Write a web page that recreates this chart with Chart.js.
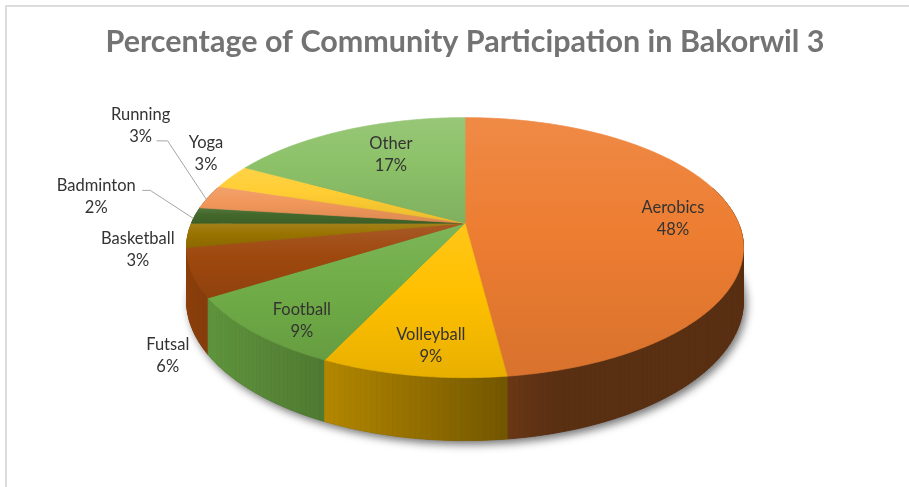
<!DOCTYPE html>
<html>
<head>
<meta charset="utf-8">
<script src="https://cdn.jsdelivr.net/npm/chart.js@4/dist/chart.umd.min.js"></script>
<style>
  html, body { margin: 0; padding: 0; background: #fff; }
  #wrap { width: 909px; height: 487px; position: relative; }
</style>
</head>
<body>
<div id="wrap"><canvas id="chart" width="909" height="487"></canvas></div>
<script>
// ---- data ----
const categories = ['Aerobics', 'Volleyball', 'Football', 'Futsal', 'Basketball', 'Badminton', 'Running', 'Yoga', 'Other'];
const participation = [48, 9, 9, 6, 3, 2, 3, 3, 17];
const sliceColors = ['#ED7D31', '#FFC000', '#70AD47', '#9E480E', '#997300', '#43682B', '#F1975A', '#FFCD33', '#8CC168'];
const chartTitle = 'Percentage of Community Participation in Bakorwil 3';

// ---- label placement: t = fraction of radius along the slice mid-angle, dx/dy = nudge in px ----
const labelPlacement = {
  Aerobics:   { t: 0.765, dx: 1,    dy: 2 },
  Volleyball: { t: 0.85,  dx: 9,    dy: -2.5 },
  Football:   { t: 0.8,   dx: 0,    dy: 12.5 },
  Other:      { t: 0.6,   dx: 2,    dy: -9.5 },
  Futsal:     { t: 1,     dx: -24,  dy: 83 },
  Basketball: { t: 1,     dx: -50,  dy: 14.5 },
  Badminton:  { t: 1,     dx: -99,  dy: -19, leader: [[46, -6], [54, -6]] },
  Running:    { t: 1,     dx: -68,  dy: -71, leader: [[16, 15], [27, 15]] },
  Yoga:       { t: 1,     dx: -25.5, dy: -22.7 }
};

// ---- 3D view: vertical squash, perspective strength, wall height (fractions of radius) ----
const VIEW = { tilt: 0.4585, persp: 0.1885, depth: 0.1868 };

function project(el, a, t, drop) {
  const u = t * Math.cos(a), v = t * Math.sin(a);
  const w = 1 - VIEW.persp * v;
  const R = el.outerRadius;
  return {
    x: el.x + R * u / w,
    y: el.y + (R * VIEW.tilt * v + (drop ? R * VIEW.depth : 0)) / w
  };
}

function hexToRgb(h) { const n = parseInt(h.slice(1), 16); return [n >> 16 & 255, n >> 8 & 255, n & 255]; }
function rgbStr(c) { return 'rgb(' + c.map(x => Math.round(Math.max(0, Math.min(255, x)))).join(',') + ')'; }
function tint(c, k) { return c.map(x => x + (255 - x) * k); }
function shade(c, k) { return c.map(x => x * k); }

const PieCtl = Chart.PieController || Chart.controllers.pie;
const ArcEl = Chart.ArcElement || Chart.elements.ArcElement;

// top face of a slice, drawn in perspective
class Arc3D extends ArcEl {
  draw(ctx) {
    const s = this.startAngle, e = this.endAngle;
    const base = hexToRgb(this.options.backgroundColor);
    const steps = Math.max(2, Math.ceil((e - s) / (Math.PI / 360)));
    const pts = [project(this, 0, 0, false)];
    for (let i = 0; i <= steps; i++) pts.push(project(this, s + (e - s) * i / steps, 1, false));
    let y0 = Infinity, y1 = -Infinity;
    pts.forEach(p => { y0 = Math.min(y0, p.y); y1 = Math.max(y1, p.y); });
    const g = ctx.createLinearGradient(0, y0, 0, y1 + 0.01);
    g.addColorStop(0, rgbStr(tint(base, 0.1)));
    g.addColorStop(0.45, rgbStr(base));
    g.addColorStop(1, rgbStr(shade(base, 0.91)));
    ctx.save();
    ctx.beginPath();
    pts.forEach((p, i) => i ? ctx.lineTo(p.x, p.y) : ctx.moveTo(p.x, p.y));
    ctx.closePath();
    ctx.fillStyle = g;
    ctx.fill();
    ctx.strokeStyle = g;
    ctx.lineWidth = 0.7;
    ctx.lineJoin = 'round';
    ctx.stroke();
    ctx.restore();
  }
}
Arc3D.id = 'arc3d';

// side walls and the soft drop shadow below the disc
function drawBody(ctx, arcs) {
  const el0 = arcs[0];
  ctx.save();
  ctx.beginPath();
  for (let i = 0; i <= 360; i++) {
    const p = project(el0, i * Math.PI / 180, 1, true);
    i ? ctx.lineTo(p.x, p.y) : ctx.moveTo(p.x, p.y);
  }
  ctx.closePath();
  ctx.shadowColor = 'rgba(0,0,0,0.55)';
  ctx.shadowBlur = 9;
  ctx.shadowOffsetX = 3;
  ctx.shadowOffsetY = 4;
  ctx.fillStyle = '#444';
  ctx.fill();
  ctx.restore();

  const quads = [];
  const step = Math.PI / 180;
  arcs.forEach(el => {
    const base = hexToRgb(el.options.backgroundColor);
    const s = el.startAngle, e = el.endAngle;
    const n = Math.max(1, Math.ceil((e - s) / step));
    for (let i = 0; i < n; i++) {
      const a0 = s + (e - s) * i / n, a1 = s + (e - s) * (i + 1) / n;
      const mid = (a0 + a1) / 2;
      const v = Math.sin(mid);
      if (v < -0.3) continue;
      const theta = mid * 180 / Math.PI + 90;           // degrees clockwise from 12 o'clock
      const light = 0.38 + 0.5 * Math.max(0, Math.cos((theta - 255) * Math.PI / 180));
      quads.push({ el, a0, a1, v, color: rgbStr(shade(base, light)) });
    }
  });
  quads.sort((p, q) => p.v - q.v);
  ctx.save();
  ctx.lineWidth = 0.8;
  ctx.lineJoin = 'round';
  quads.forEach(q => {
    const p0 = project(q.el, q.a0, 1, false), p1 = project(q.el, q.a1, 1, false);
    const p2 = project(q.el, q.a1, 1, true), p3 = project(q.el, q.a0, 1, true);
    ctx.beginPath();
    ctx.moveTo(p0.x, p0.y); ctx.lineTo(p1.x, p1.y); ctx.lineTo(p2.x, p2.y); ctx.lineTo(p3.x, p3.y);
    ctx.closePath();
    ctx.fillStyle = q.color;
    ctx.strokeStyle = q.color;
    ctx.fill();
    ctx.stroke();
  });
  ctx.restore();
}

class Pie3DController extends PieCtl {
  draw() {
    const arcs = this._cachedMeta.data || [];
    if (arcs.length) drawBody(this.chart.ctx, arcs);
    super.draw();
  }
}
Pie3DController.id = 'pie3d';
Pie3DController.defaults = { dataElementType: 'arc3d' };

Chart.register(Arc3D, Pie3DController);

// white card with a light frame
const chartFrame = {
  id: 'chartFrame',
  beforeDraw(chart) {
    const ctx = chart.ctx;
    ctx.save();
    ctx.fillStyle = '#ffffff';
    ctx.fillRect(0, 0, chart.width, chart.height);
    ctx.strokeStyle = '#dcdcdc';
    ctx.lineWidth = 2;
    ctx.strokeRect(6, 6, chart.width + 20, chart.height + 20);
    ctx.restore();
  }
};

// category name + percentage on each slice, with callouts for the thin ones
const sliceLabels = {
  id: 'sliceLabels',
  afterDatasetsDraw(chart) {
    const ctx = chart.ctx;
    const meta = chart.getDatasetMeta(0);
    const values = chart.data.datasets[0].data;
    ctx.save();
    ctx.font = '16.5px Lato';
    ctx.fillStyle = '#333333';
    ctx.textAlign = 'center';
    ctx.textBaseline = 'middle';
    meta.data.forEach((el, i) => {
      const name = chart.data.labels[i];
      const place = labelPlacement[name];
      const mid = (el.startAngle + el.endAngle) / 2;
      const p = project(el, mid, place.t, false);
      const cx = p.x + place.dx, cy = p.y + place.dy;
      if (place.leader) {
        const [st, elb] = place.leader;
        ctx.save();
        ctx.strokeStyle = '#a6a6a6';
        ctx.lineWidth = 1;
        ctx.beginPath();
        ctx.moveTo(cx + st[0], cy + st[1]);
        ctx.lineTo(cx + elb[0], cy + elb[1]);
        ctx.lineTo(p.x - 2, p.y + 3);
        ctx.stroke();
        ctx.restore();
      }
      ctx.fillText(name, cx, cy - 11);
      ctx.fillText(values[i] + '%', cx, cy + 11);
    });
    ctx.restore();
  }
};

new Chart(document.getElementById('chart'), {
  type: 'pie3d',
  data: {
    labels: categories,
    datasets: [{
      data: participation,
      backgroundColor: sliceColors,
      borderWidth: 0,
      radius: 273.5,
      clip: false
    }]
  },
  options: {
    responsive: false,
    animation: false,
    devicePixelRatio: 1,
    events: [],
    layout: { padding: { left: 21, right: 0, top: 0, bottom: 110.8 } },
    plugins: {
      legend: { display: false },
      tooltip: { enabled: false },
      title: {
        display: true,
        text: chartTitle,
        color: '#737373',
        font: { family: 'Lato', size: 30.5, weight: 'bold', lineHeight: 1.15 },
        padding: { top: 25, bottom: 10 }
      }
    }
  },
  plugins: [chartFrame, sliceLabels]
});
</script>
</body>
</html>
